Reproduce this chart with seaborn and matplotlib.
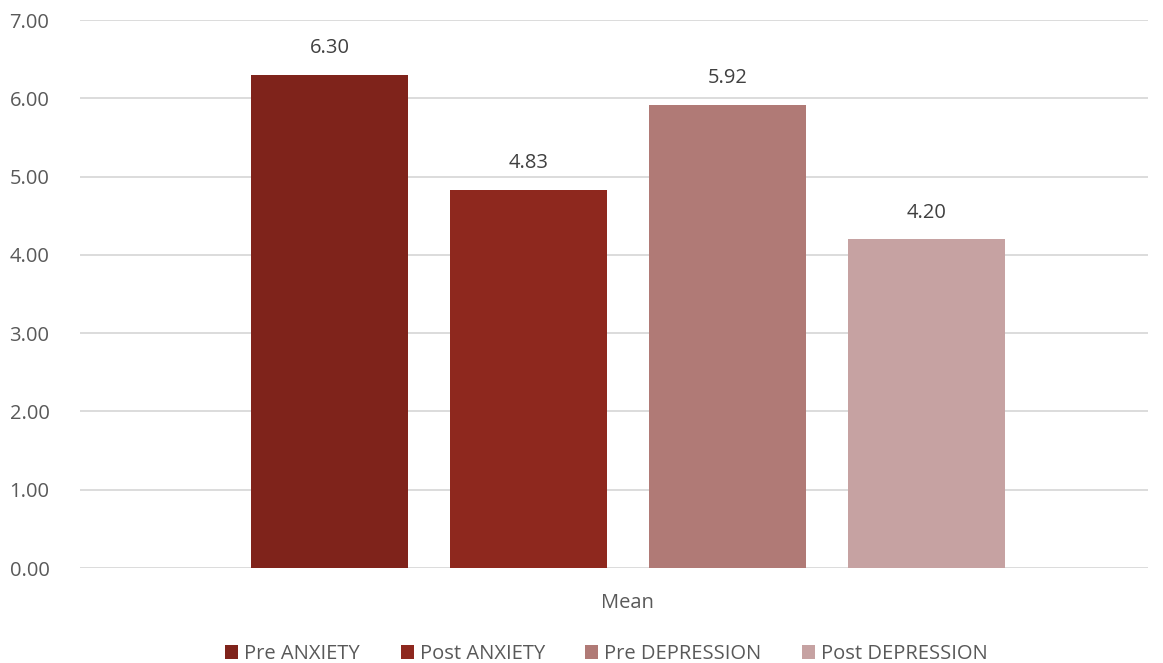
import seaborn as sns
import matplotlib.pyplot as plt
import pandas as pd

# chart values
series = ['Pre ANXIETY', 'Post ANXIETY', 'Pre DEPRESSION', 'Post DEPRESSION']
means = [6.30, 4.83, 5.92, 4.20]
category = ['Mean'] * 4
colors = ['#7F231B', '#8E281E', '#B07A76', '#C6A2A2']

df = pd.DataFrame({'cat': category, 'series': series, 'value': means})

sns.set_theme(style='white')
plt.rcParams['font.family'] = ['Open Sans', 'DejaVu Sans']
txt = '#595959'
fs = 14.5

fig = plt.figure(figsize=(11.63, 6.63), dpi=100)
ax = fig.add_axes([80 / 1163, 95 / 663, 1068 / 1163, 548 / 663])

sns.barplot(data=df, x='cat', y='value', hue='series', palette=colors,
            width=0.745, gap=0.21, ax=ax, legend=True, saturation=1,
            linewidth=0)

for cont in ax.containers:
    ax.bar_label(cont, fmt='%.2f', padding=12, fontsize=fs, color='#404040')

ax.set_ylim(0, 7)
ax.set_yticks(range(8))
ax.set_yticklabels([f'{v:.2f}' for v in range(8)])
ax.set_xlim(-0.513, 0.487)
ax.yaxis.grid(True, color='#D9D9D9', linewidth=1.3)
ax.set_axisbelow(True)
for s in ax.spines.values():
    s.set_visible(False)
ax.tick_params(axis='both', length=0, labelsize=fs, labelcolor=txt)
ax.tick_params(axis='y', pad=22)
ax.tick_params(axis='x', pad=18)
ax.set_xlabel('')
ax.set_ylabel('')

handles, labels = ax.get_legend_handles_labels()
ax.legend(handles, labels, loc='lower center', bbox_to_anchor=(0.493, -0.208),
          ncol=4, frameon=False, fontsize=fs, labelcolor=txt,
          handlelength=0.65, handleheight=0.65, handletextpad=0.3, columnspacing=2.0)

fig.savefig('out.png', dpi=100)
